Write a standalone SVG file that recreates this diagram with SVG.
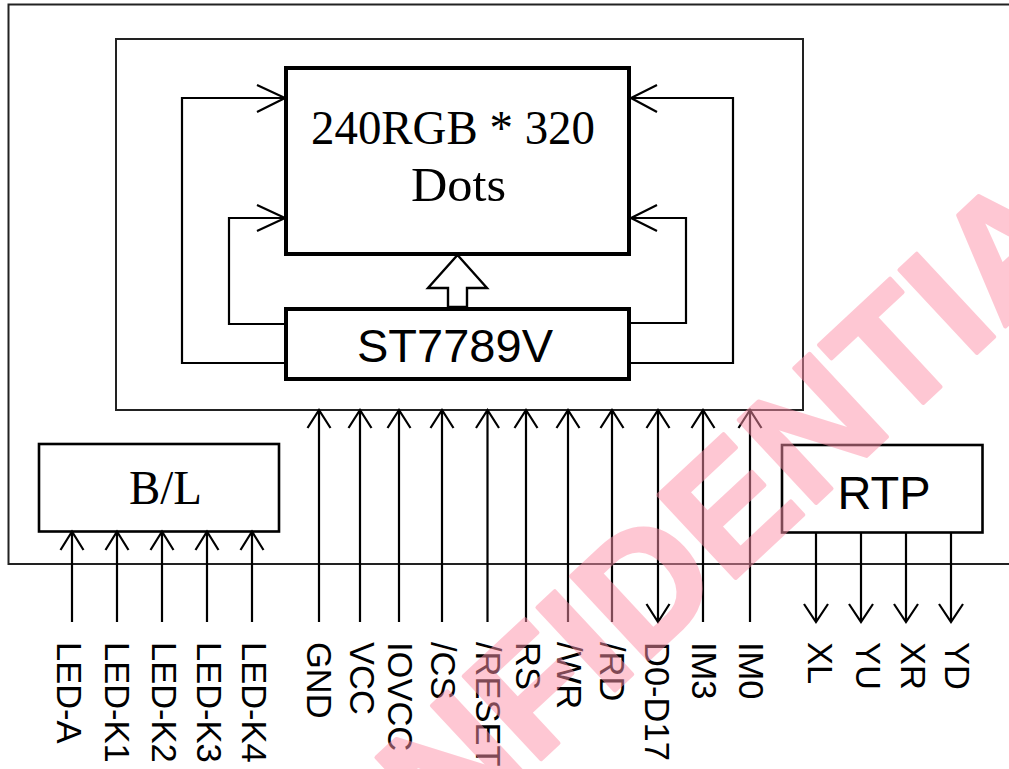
<svg xmlns="http://www.w3.org/2000/svg" width="1009" height="769" viewBox="0 0 1009 769">
<style>
.ln{fill:none;stroke:#000;stroke-width:2.2}
.thin{fill:none;stroke:#222;stroke-width:2}
.thick{fill:#fff;stroke:#000;stroke-width:4}
.box{fill:#fff;stroke:#000;stroke-width:2.6}
.serif{font-family:"Liberation Serif","Times New Roman",serif;font-size:48px;fill:#000}
.sans{font-family:"Liberation Sans",Arial,sans-serif;font-size:47px;fill:#000}
.lbl{font-family:"Liberation Sans",Arial,sans-serif;font-size:34.5px;fill:#000}
.wm{font-family:"Liberation Sans",Arial,sans-serif;font-weight:bold;font-size:165px;fill:rgb(254,145,169);stroke:rgb(254,145,169);stroke-width:4;stroke-linejoin:round;opacity:0.5}
</style>
<rect width="1009" height="769" fill="#fff"/>
<g id="frame-outer"><path class="thin" d="M1015,4.5 H8.5 V564 H1015"/></g>
<g id="frame-inner"><rect class="thin" x="116" y="39" width="687" height="371"/></g>
<g id="display"><rect class="thick" x="286" y="68" width="343" height="186" stroke-width="3.5"/>
<text class="serif" x="311" y="144" textLength="284" lengthAdjust="spacingAndGlyphs">240RGB * 320</text>
<text class="serif" x="411" y="201" textLength="95" lengthAdjust="spacingAndGlyphs">Dots</text></g>
<g id="driver"><rect class="thick" x="286" y="309" width="343" height="70"/>
<text class="sans" x="455" y="362" text-anchor="middle">ST7789V</text></g>
<g id="backlight"><rect class="box" x="39" y="444" width="240" height="87.5"/>
<text class="serif" x="129" y="504" textLength="73" lengthAdjust="spacingAndGlyphs">B/L</text></g>
<g id="rtp"><rect class="box" x="782" y="445" width="200.5" height="87.5"/>
<text class="sans" x="884" y="509" text-anchor="middle">RTP</text></g>
<g id="connectors">
<polygon points="457.5,255 487,288 467,288 467,307 448,307 448,288 428,288" fill="#fff" stroke="#000" stroke-width="2.4"/>
<path class="ln" d="M286,363 H182 V98 H285 M257,85 L285,98 L257,112 M286,324 H229 V218 H285 M257,205 L285,218 L257,231"/>
<path class="ln" d="M629,363 H733 V98 H631 M657,85 L631,98 L657,112 M629,323 H686 V218 H631 M657,205 L631,218 L657,231"/>
<path class="ln" d="M72,531.5 V622 M60.5,550 L72,531.5 L83.5,550 M117,531.5 V622 M105.5,550 L117,531.5 L128.5,550 M162,531.5 V622 M150.5,550 L162,531.5 L173.5,550 M207,531.5 V622 M195.5,550 L207,531.5 L218.5,550 M252,531.5 V622 M240.5,550 L252,531.5 L263.5,550"/>
<path class="ln" d="M319,410 V622 M307.5,428 L319,410 L330.5,428 M360,410 V622 M348.5,428 L360,410 L371.5,428 M399,410 V622 M387.5,428 L399,410 L410.5,428 M442,410 V622 M430.5,428 L442,410 L453.5,428 M487.5,410 V622 M476,428 L487.5,410 L499,428 M526,410 V622 M514.5,428 L526,410 L537.5,428 M568,410 V622 M556.5,428 L568,410 L579.5,428 M612,410 V622 M600.5,428 L612,410 L623.5,428 M658,410 V622 M646.5,428 L658,410 L669.5,428 M646.5,604 L658,622 L669.5,604 M703,410 V622 M691.5,428 L703,410 L714.5,428 M750,410 V622 M738.5,428 L750,410 L761.5,428"/>
<path class="ln" d="M816,533 V622 M804,604 L816,622 L828,604 M861,533 V622 M849,604 L861,622 L873,604 M906,533 V622 M894,604 L906,622 L918,604 M951,533 V622 M939,604 L951,622 L963,604"/>
</g>
<g id="labels">
<text class="lbl" transform="translate(57,642) rotate(90)">LED-A</text>
<text class="lbl" transform="translate(105,642) rotate(90)">LED-K1</text>
<text class="lbl" transform="translate(152,642) rotate(90)">LED-K2</text>
<text class="lbl" transform="translate(197,642) rotate(90)">LED-K3</text>
<text class="lbl" transform="translate(242,642) rotate(90)">LED-K4</text>
<text class="lbl" transform="translate(307,642) rotate(90)">GND</text>
<text class="lbl" transform="translate(350,642) rotate(90)">VCC</text>
<text class="lbl" transform="translate(388,642) rotate(90)">IOVCC</text>
<text class="lbl" transform="translate(431,642) rotate(90)">/CS</text>
<text class="lbl" transform="translate(476,642) rotate(90)">/RESET</text>
<text class="lbl" transform="translate(516,642) rotate(90)">RS</text>
<text class="lbl" transform="translate(557,642) rotate(90)">/WR</text>
<text class="lbl" transform="translate(600,642) rotate(90)">/RD</text>
<text class="lbl" transform="translate(645,642) rotate(90)">D0-D17</text>
<text class="lbl" transform="translate(692,642) rotate(90)">IM3</text>
<text class="lbl" transform="translate(739,642) rotate(90)">IM0</text>
<text class="lbl" transform="translate(808,642) rotate(90)">XL</text>
<text class="lbl" transform="translate(856,642) rotate(90)">YU</text>
<text class="lbl" transform="translate(901,642) rotate(90)">XR</text>
<text class="lbl" transform="translate(945,642) rotate(90)">YD</text>
</g>
<g id="watermark"><text class="wm" transform="translate(714,598) rotate(-43)" text-anchor="middle">CONFIDENTIAL</text></g>
</svg>
